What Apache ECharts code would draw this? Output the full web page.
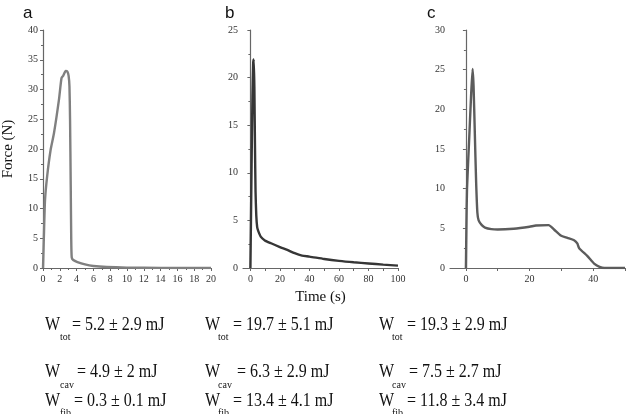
<!DOCTYPE html>
<html>
<head>
<meta charset="utf-8">
<script src="https://cdn.jsdelivr.net/npm/echarts@6/dist/echarts.min.js"></script>
<style>
  html, body { margin: 0; padding: 0; background: #fff; }
  #chart { width: 629px; height: 414px; }
</style>
</head>
<body>
<div id="chart"></div>
<script>
// panel a : time (s) / force (N)
var aTime = [0, 0.1, 0.24, 0.5, 0.9, 1.3, 1.9, 2.2, 2.4, 2.7, 2.9, 3.05, 3.15, 3.22, 3.3, 3.36, 3.42, 3.6, 4.1, 5, 6, 7.6, 10, 14, 20];
var aForce = [0, 5, 11.4, 15.5, 19.8, 22.6, 28.3, 31.9, 32.3, 33.1, 33, 32.3, 30.5, 25, 14, 5, 1.8, 1.35, 1.0, 0.6, 0.34, 0.17, 0.07, 0.02, 0];
// panel b
var bTime = [0, 0.4, 0.9, 1.4, 1.9, 2.3, 2.7, 3.1, 3.5, 4.0, 4.6, 5.3, 7, 9.8, 14, 20, 25, 30, 35, 40, 50, 60, 70, 80, 90, 100];
var bForce = [0, 5, 12, 18, 21.5, 21.9, 19, 13, 8, 5.5, 4.3, 3.9, 3.3, 2.9, 2.6, 2.2, 1.9, 1.55, 1.3, 1.2, 0.95, 0.75, 0.6, 0.48, 0.35, 0.25];
// panel c
var cTime = [0, 0.15, 0.35, 1, 1.6, 2.1, 2.4, 2.8, 3.2, 3.6, 4, 5, 6, 8, 10, 15, 20, 22, 26, 27.7, 29.8, 31.9, 34, 35, 35.6, 38.2, 40.3, 42, 43.5, 50];
var cForce = [0, 5, 10, 16, 21.5, 25.1, 23, 17, 11, 7, 6, 5.4, 5.1, 4.9, 4.85, 4.95, 5.2, 5.35, 5.4, 4.85, 4.1, 3.8, 3.5, 3.1, 2.5, 1.5, 0.55, 0.15, 0, 0];

// axis ticks / labels
var bXLabels = [0, 20, 40, 60, 80, 100];
var bXTicks = [0, 10, 20, 30, 40, 50, 60, 70, 80, 90, 100];
var cXLabels = [0, 20, 40];
var cXTicks = [0, 10, 20, 30, 40, 50];

// energies under each panel
var panelNames = ['a', 'b', 'c'];
var wTot = ['= 5.2 ± 2.9 mJ', '= 19.7 ± 5.1 mJ', '= 19.3 ± 2.9 mJ'];
var wCav = ['= 4.9 ± 2 mJ', '= 6.3 ± 2.9 mJ', '= 7.5 ± 2.7 mJ'];
var wFib = ['= 0.3 ± 0.1 mJ', '= 13.4 ± 4.1 mJ', '= 11.8 ± 3.4 mJ'];

var serif = '"Liberation Serif", "Times New Roman", serif';
var axisCol = '#666';
var labelCol = '#333';

function zip(xs, ys) {
  return xs.map(function (x, i) { return [x, ys[i]]; });
}

function xAxisBase(idx, min, max) {
  return {
    type: 'value', gridIndex: idx, min: min, max: max,
    splitLine: { show: false },
    axisLine: { lineStyle: { color: axisCol, width: 1.2 } },
    axisTick: { inside: false, length: 3, lineStyle: { color: axisCol } },
    axisLabel: { color: labelCol, fontFamily: serif, fontSize: 10, margin: 6 }
  };
}
function yAxisBase(idx, max) {
  return {
    type: 'value', gridIndex: idx, min: 0, max: max, interval: 5,
    splitLine: { show: false },
    axisLine: { show: true, lineStyle: { color: axisCol, width: 1.2 } },
    axisTick: { show: true, inside: false, length: 3, lineStyle: { color: axisCol } },
    minorTick: { show: true, splitNumber: 2, length: 2, lineStyle: { color: axisCol } },
    axisLabel: { color: labelCol, fontFamily: serif, fontSize: 10, margin: 5 }
  };
}

var xa = xAxisBase(0, 0, 20);
xa.interval = 2;
xa.minorTick = { show: true, splitNumber: 2, length: 2, lineStyle: { color: axisCol } };

var xb = xAxisBase(1, -5, 100);
xb.axisTick.customValues = bXTicks;
xb.axisLabel.customValues = bXLabels;
xb.name = 'Time (s)';
xb.nameLocation = 'middle';
xb.nameGap = 22;
xb.nameTextStyle = { fontFamily: serif, fontSize: 15, color: '#111' };

var xc = xAxisBase(2, -5, 50);
xc.axisTick.customValues = cXTicks;
xc.axisLabel.customValues = cXLabels;

var ya = yAxisBase(0, 40);
ya.name = 'Force (N)';
ya.nameLocation = 'middle';
ya.nameGap = 27;
ya.nameTextStyle = { fontFamily: serif, fontSize: 15, color: '#111' };

var graphics = [];
var panelX = [23, 225, 427];
var wX = [45, 205, 379];
var subX = [60, 218, 392];
var eqX = [[72, 77, 74], [233, 237, 233], [407, 409, 407]];
var rowY = [325, 372.5, 401.5];
var subY = [337, 385, 413];
var subs = ['tot', 'cav', 'fib'];
var rows = [wTot, wCav, wFib];

function txt(x, y, s, size, family, sy) {
  return {
    type: 'text', x: x, y: y, scaleY: sy || 1, silent: true,
    style: { text: s, fontSize: size, fontFamily: family, fill: '#111', align: 'left', verticalAlign: 'middle' }
  };
}

for (var p = 0; p < 3; p++) {
  graphics.push(txt(panelX[p], 13, panelNames[p], 17, '"Liberation Sans", Arial, sans-serif'));
  for (var r = 0; r < 3; r++) {
    graphics.push(txt(wX[p], rowY[r], 'W', 16, serif, 1.18));
    graphics.push(txt(subX[p], subY[r], subs[r], 10, serif, 1.1));
    graphics.push(txt(eqX[p][r], rowY[r], rows[r][p], 16, serif, 1.18));
  }
}

var option = {
  animation: false,
  backgroundColor: '#fff',
  grid: [
    { left: 42, width: 169, top: 30, height: 238 },
    { left: 243, width: 155, top: 30, height: 238 },
    { left: 450, width: 175, top: 30, height: 238 }
  ],
  xAxis: [xa, xb, xc],
  yAxis: [ya, yAxisBase(1, 25), yAxisBase(2, 30)],
  series: [
    { type: 'line', xAxisIndex: 0, yAxisIndex: 0, data: zip(aTime, aForce), showSymbol: false, smooth: 0.2,
      lineStyle: { color: '#808080', width: 2.4 } },
    { type: 'line', xAxisIndex: 1, yAxisIndex: 1, data: zip(bTime, bForce), showSymbol: false, smooth: 0.2,
      lineStyle: { color: '#363636', width: 2.4 } },
    { type: 'line', xAxisIndex: 2, yAxisIndex: 2, data: zip(cTime, cForce), showSymbol: false, smooth: 0.2,
      lineStyle: { color: '#5c5c5c', width: 2.4 } }
  ],
  graphic: graphics
};

var chart = echarts.init(document.getElementById('chart'));
chart.setOption(option);
window.addEventListener('resize', function () { chart.resize(); });
</script>
</body>
</html>
